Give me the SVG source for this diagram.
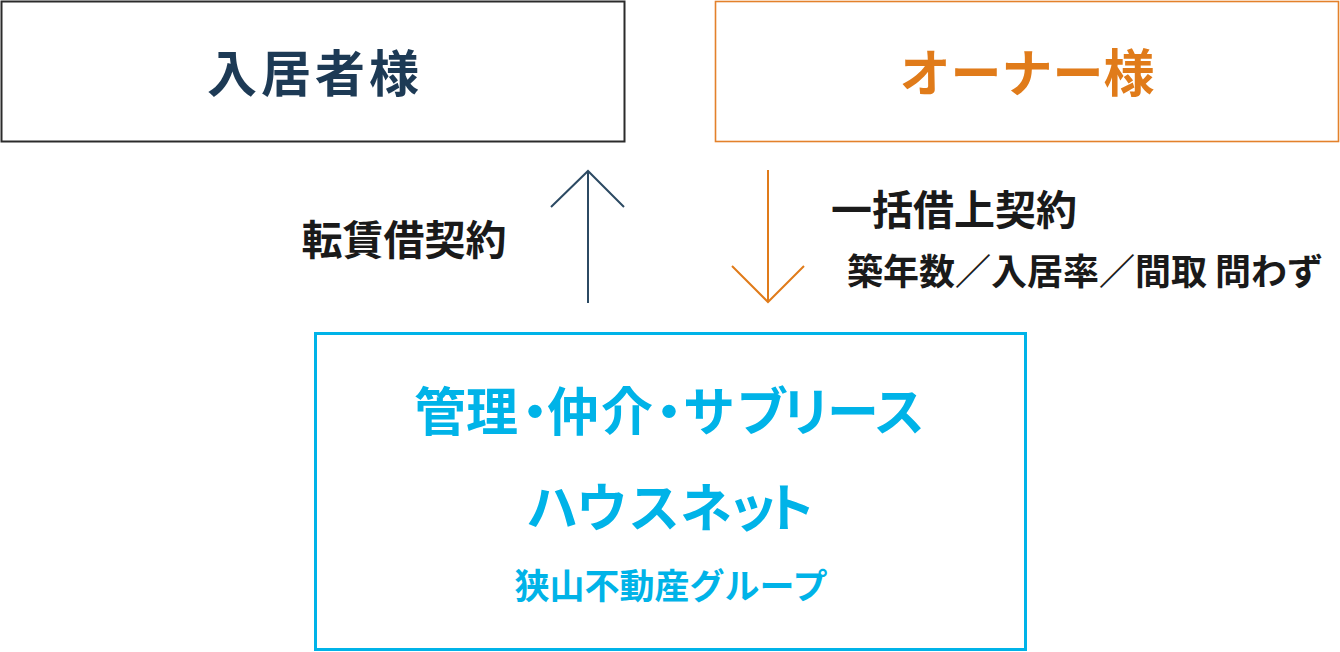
<svg xmlns="http://www.w3.org/2000/svg" width="1340" height="652" viewBox="0 0 1340 652">
<style>
text{font-family:"Noto Sans CJK JP","Noto Sans",sans-serif;font-weight:700;text-anchor:middle}
.box{fill:#fff}
.lbl{fill:#1a1a1a}
.blue{fill:#00b3e8}
.st{text-anchor:start}
</style>
<rect width="1340" height="652" fill="#fff"/>
<g id="tenant">
<rect class="box" x="1.5" y="1.5" width="623" height="140" stroke="#2b2b2b" stroke-width="2"/>
<text x="315" y="92" font-size="50" letter-spacing="4" fill="#1d3a55">入居者様</text>
</g>
<g id="owner">
<rect class="box" x="715.5" y="1.5" width="623" height="140" stroke="#e3812b" stroke-width="1.6"/>
<text x="1027" y="92" font-size="51" fill="#e07b1a">オーナー様</text>
</g>
<g id="company">
<rect class="box" x="315.5" y="333.5" width="710" height="316" stroke="#00b3e8" stroke-width="3"/>
<text class="blue st" x="414 466 509 547 601 643 683 736 780 827 873" y="431" font-size="52">管理・仲介・サブリース</text>
<text class="blue st" x="526 576 628 680 727 764" y="527" font-size="52">ハウスネット</text>
<text class="blue" x="671" y="599" font-size="35">狭山不動産グループ</text>
</g>
<g id="connectors" fill="none" stroke-width="2">
<path d="M588 303V171M551 207L588 171L624 207" stroke="#2c4a63"/>
<path d="M768 170V301M732 266L768 302L804 266" stroke="#e07b1a"/>
</g>
<g id="labels">
<text class="lbl" x="404" y="255" font-size="41">転賃借契約</text>
<text class="lbl" x="954" y="225" font-size="41">一括借上契約</text>
<text class="lbl" x="1085" y="285" font-size="36">築年数／入居率／間取 問わず</text>
</g>
</svg>
